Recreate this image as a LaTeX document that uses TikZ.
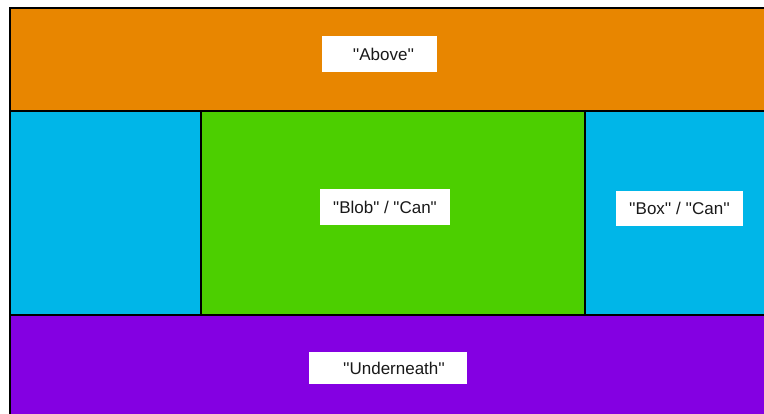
\documentclass[tikz,border=0pt]{standalone}
\usepackage{fontspec}
\setmainfont{Liberation Sans}
\usetikzlibrary{positioning}
\definecolor{zoneOrange}{HTML}{E88600}
\definecolor{zoneCyan}{HTML}{00B6E8}
\definecolor{zoneGreen}{HTML}{4CCF00}
\definecolor{zonePurple}{HTML}{8400E2}
\newcommand{\sq}{\textquotesingle\textquotesingle}
\newcommand{\dq}{\textquotedbl}

\begin{document}
\begin{tikzpicture}[
  % pixel grid: x goes right, y goes down
  x=1pt, y=-1pt,
  zone/.style={draw=black, line width=1.2pt},
  tag/.style={
    rectangle, fill=white, inner sep=0pt,
    font=\fontsize{17}{20}\selectfont, text=black!90
  },
]
\useasboundingbox (0,0) rectangle (764,414);
\clip (0,0) rectangle (764,414);

% --- Zones (right and bottom run off the page) ---
\draw[zone, fill=zoneOrange] (10,8) rectangle (790,111);
\draw[zone, fill=zoneCyan]   (10,111) rectangle (201,315);
\draw[zone, fill=zoneGreen]  (201,111) rectangle (585,315);
\draw[zone, fill=zoneCyan]   (585,111) rectangle (790,315);
\draw[zone, fill=zonePurple] (10,315) rectangle (790,440);

% --- Labels ---
\node[tag, minimum width=115pt, minimum height=36pt]
  (above) at (379.5,54) {\hspace{8pt}\sq Above\sq};
\node[tag, minimum width=130pt, minimum height=36pt]
  (blob) at (385,207.5) {\dq Blob\dq{} / \dq Can\dq\hspace{6pt}};
\node[tag, minimum width=127pt, minimum height=35pt]
  (box) at (679.5,208.5) {\sq Box\sq{} / \sq Can\sq};
\node[tag, minimum width=158pt, minimum height=32pt]
  (under) at (388,368) {\hspace{12pt}\sq Underneath\sq};

\end{tikzpicture}
\end{document}
